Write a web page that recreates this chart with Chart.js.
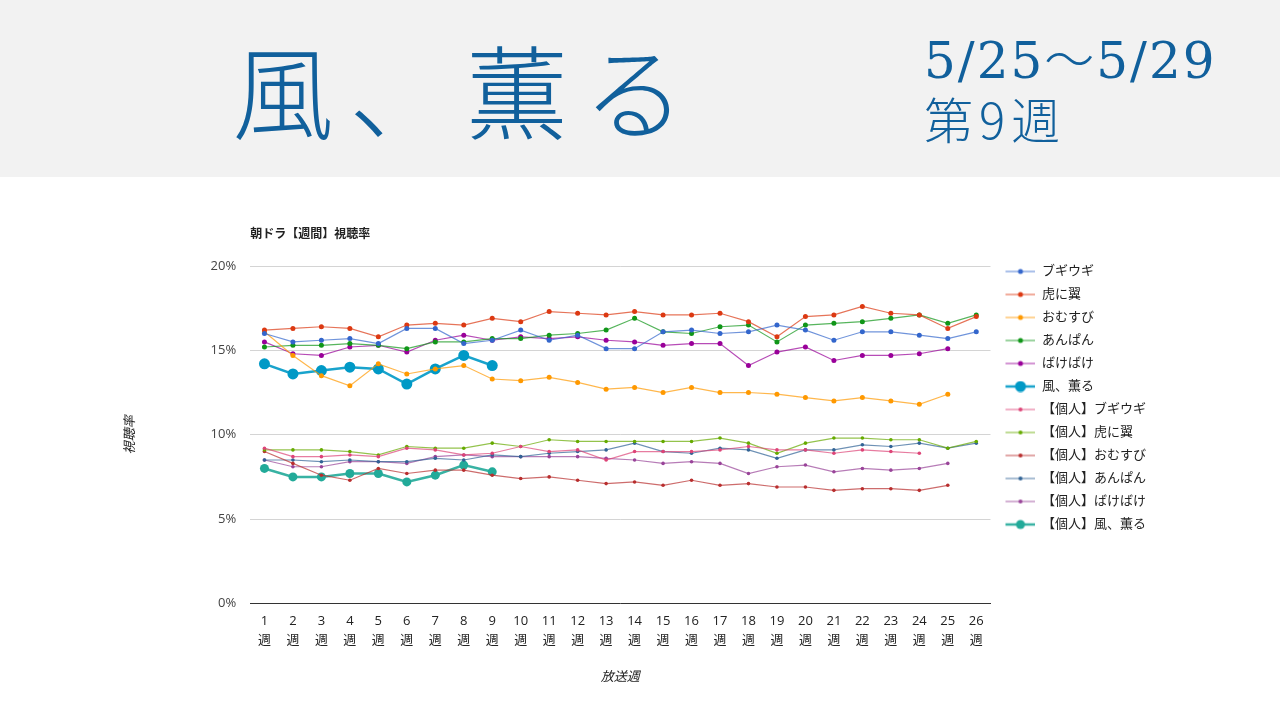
<!DOCTYPE html>
<html lang="ja">
<head>
<meta charset="utf-8">
<title>風、薫る 視聴率</title>
<script src="https://cdn.jsdelivr.net/npm/chart.js@4"></script>
<style>
  html, body { margin: 0; padding: 0; background: #fff; }
  body { width: 1280px; height: 720px; position: relative; overflow: hidden; font-family: 'Noto Sans CJK JP', sans-serif; }
  .head { position: absolute; left: 0; top: 0; width: 1280px; height: 177px; background: #f2f2f2; }
  .big { position: absolute; left: 232px; top: 18px; font-size: 102px; line-height: 140px; letter-spacing: 15px; color: #11609c; font-weight: 300; white-space: nowrap; }
  .date { position: absolute; left: 924px; top: 30px; font-size: 50px; line-height: 62px; letter-spacing: 2px; color: #11609c; font-family: 'DejaVu Serif', 'Noto Sans CJK JP', serif; font-weight: 300; white-space: nowrap; }
  .week { position: absolute; left: 924px; top: 88px; font-size: 49px; line-height: 60px; letter-spacing: 6px; color: #11609c; font-weight: 300; white-space: nowrap; }
  .wrap { position: absolute; left: 100px; top: 215px; width: 1080px; height: 490px; }
</style>
</head>
<body>
<div class="head">
  <div class="big">風、薫る</div>
  <div class="date">5/25～5/29</div>
  <div class="week">第9週</div>
</div>
<div class="wrap"><canvas id="LineChart"></canvas></div>
<script>
const weeks = ['1週', '2週', '3週', '4週', '5週', '6週', '7週', '8週', '9週', '10週', '11週', '12週', '13週',
  '14週', '15週', '16週', '17週', '18週', '19週', '20週', '21週', '22週', '23週', '24週', '25週', '26週'];
const yTicks = [0, 5, 10, 15, 20];

// 世帯
const boogie = [16.0, 15.5, 15.6, 15.7, 15.4, 16.3, 16.3, 15.4, 15.6, 16.2, 15.6, 15.9, 15.1, 15.1, 16.1, 16.2, 16.0, 16.1, 16.5, 16.2, 15.6, 16.1, 16.1, 15.9, 15.7, 16.1];
const tora = [16.2, 16.3, 16.4, 16.3, 15.8, 16.5, 16.6, 16.5, 16.9, 16.7, 17.3, 17.2, 17.1, 17.3, 17.1, 17.1, 17.2, 16.7, 15.8, 17.0, 17.1, 17.6, 17.2, 17.1, 16.3, 17.0];
const omusubi = [16.1, 14.7, 13.5, 12.9, 14.2, 13.6, 13.9, 14.1, 13.3, 13.2, 13.4, 13.1, 12.7, 12.8, 12.5, 12.8, 12.5, 12.5, 12.4, 12.2, 12.0, 12.2, 12.0, 11.8, 12.4, null];
const anpan = [15.2, 15.3, 15.3, 15.4, 15.3, 15.1, 15.5, 15.5, 15.7, 15.7, 15.9, 16.0, 16.2, 16.9, 16.1, 16.0, 16.4, 16.5, 15.5, 16.5, 16.6, 16.7, 16.9, 17.1, 16.6, 17.1];
const bakebake = [15.5, 14.8, 14.7, 15.2, 15.3, 14.9, 15.6, 15.9, 15.6, 15.8, 15.7, 15.8, 15.6, 15.5, 15.3, 15.4, 15.4, 14.1, 14.9, 15.2, 14.4, 14.7, 14.7, 14.8, 15.1, null];
const kaze = [14.2, 13.6, 13.8, 14.0, 13.9, 13.0, 13.9, 14.7, 14.1];

// 個人
const boogieP = [9.2, 8.7, 8.7, 8.8, 8.7, 9.2, 9.1, 8.8, 8.9, 9.3, 9.0, 9.1, 8.5, 9.0, 9.0, 9.0, 9.1, 9.3, 9.1, 9.1, 8.9, 9.1, 9.0, 8.9, null, null];
const toraP = [9.1, 9.1, 9.1, 9.0, 8.8, 9.3, 9.2, 9.2, 9.5, 9.3, 9.7, 9.6, 9.6, 9.6, 9.6, 9.6, 9.8, 9.5, 8.9, 9.5, 9.8, 9.8, 9.7, 9.7, 9.2, 9.6];
const omusubiP = [9.0, 8.3, 7.6, 7.3, 8.0, 7.7, 7.9, 7.9, 7.6, 7.4, 7.5, 7.3, 7.1, 7.2, 7.0, 7.3, 7.0, 7.1, 6.9, 6.9, 6.7, 6.8, 6.8, 6.7, 7.0, null];
const anpanP = [8.5, 8.5, 8.4, 8.5, 8.4, 8.4, 8.6, 8.5, 8.8, 8.7, 8.9, 9.0, 9.1, 9.5, 9.0, 8.9, 9.2, 9.1, 8.6, 9.1, 9.1, 9.4, 9.3, 9.5, 9.2, 9.5];
const bakebakeP = [8.5, 8.1, 8.1, 8.4, 8.4, 8.3, 8.7, 8.8, 8.7, 8.7, 8.7, 8.7, 8.6, 8.5, 8.3, 8.4, 8.3, 7.7, 8.1, 8.2, 7.8, 8.0, 7.9, 8.0, 8.3, null];
const kazeP = [8.0, 7.5, 7.5, 7.7, 7.7, 7.2, 7.6, 8.2, 7.8];

const FONT = "'Open Sans', 'Noto Sans CJK JP', sans-serif";

function alpha(hex, a) {
  const n = parseInt(hex.slice(1), 16);
  return `rgba(${n >> 16}, ${(n >> 8) & 255}, ${n & 255}, ${a})`;
}

function series(label, data, color, main, big) {
  return {
    label: label,
    data: data,
    borderColor: alpha(color, big ? 0.9 : 0.7),
    backgroundColor: color,
    pointBackgroundColor: color,
    pointBorderColor: color,
    borderWidth: big ? 2.5 : 1.2,
    pointRadius: big ? (main ? 5.5 : 4.5) : (main ? 2.5 : 1.8),
    pointBorderWidth: 0,
    tension: 0,
    spanGaps: false,
    _main: main,
    _big: big
  };
}

// 凡例用の小さい線＋点 (左5pxは余白)
function legendIcon(ds) {
  const c = document.createElement('canvas');
  c.width = 35; c.height = 12;
  const g = c.getContext('2d');
  g.strokeStyle = ds.borderColor;
  g.lineWidth = ds._big ? 2.5 : 1.2;
  g.beginPath(); g.moveTo(5, 6); g.lineTo(35, 6); g.stroke();
  g.fillStyle = ds.pointBackgroundColor;
  g.beginPath(); g.arc(20, 6, ds._big ? (ds._main ? 5.5 : 4.5) : (ds._main ? 2.5 : 2), 0, Math.PI * 2); g.fill();
  return c;
}

const titlePlugin = {
  id: 'leftTitle',
  afterDraw(chart) {
    const ctx = chart.ctx;
    ctx.save();
    ctx.font = `bold 12px ${FONT}`;
    ctx.fillStyle = '#222';
    ctx.textBaseline = 'middle';
    ctx.fillText('朝ドラ【週間】視聴率', chart.chartArea.left, 20);
    ctx.restore();
  }
};

document.addEventListener('DOMContentLoaded', () => {
  const ctxLine = document.getElementById('LineChart')?.getContext('2d');
  if (!ctxLine) return;

  const datasets = [
    series('ブギウギ', boogie, '#3366cc', true, false),
    series('虎に翼', tora, '#dc3912', true, false),
    series('おむすび', omusubi, '#ff9900', true, false),
    series('あんぱん', anpan, '#109618', true, false),
    series('ばけばけ', bakebake, '#990099', true, false),
    series('風、薫る', kaze, '#0099c6', true, true),
    series('【個人】ブギウギ', boogieP, '#dd4477', false, false),
    series('【個人】虎に翼', toraP, '#66aa00', false, false),
    series('【個人】おむすび', omusubiP, '#b82e2e', false, false),
    series('【個人】あんぱん', anpanP, '#316395', false, false),
    series('【個人】ばけばけ', bakebakeP, '#994499', false, false),
    series('【個人】風、薫る', kazeP, '#22aa99', false, true)
  ];

  new Chart(ctxLine, {
    type: 'line',
    data: { labels: weeks, datasets: datasets },
    plugins: [titlePlugin],
    options: {
      responsive: true,
      maintainAspectRatio: false,
      animation: false,
      layout: { padding: { top: 40, left: 18, right: 24, bottom: 16 } },
      plugins: {
        legend: {
          position: 'right',
          align: 'start',
          labels: {
            font: { family: FONT, size: 13 },
            color: '#222',
            usePointStyle: true,
            pointStyleWidth: 35,
            padding: 10,
            generateLabels(chart) {
              return chart.data.datasets.map((ds, i) => ({
                text: ds.label,
                pointStyle: legendIcon(ds),
                fillStyle: ds.backgroundColor,
                strokeStyle: ds.borderColor,
                lineWidth: 0,
                hidden: !chart.isDatasetVisible(i),
                datasetIndex: i,
                fontColor: '#222'
              }));
            }
          }
        },
        tooltip: { enabled: true, mode: 'nearest', intersect: false }
      },
      scales: {
        x: {
          offset: true,
          grid: { display: false },
          border: { display: true, color: '#333', width: 1 },
          ticks: {
            color: '#222',
            font: { family: FONT, size: 13, lineHeight: 1.5 },
            maxRotation: 0,
            autoSkip: false,
            padding: 0,
            callback(value) {
              const t = weeks[value];
              return [t.replace('週', ''), '週'];
            }
          },
          title: {
            display: true,
            text: '放送週',
            color: '#222',
            font: { family: FONT, size: 13, style: 'italic' },
            padding: { top: 19 }
          }
        },
        y: {
          min: 0,
          max: 20,
          afterBuildTicks(axis) {
            axis.ticks = yTicks.map(v => ({ value: v }));
          },
          afterFit(axis) {
            // 凡例は上のまま、描画領域だけ下げる
            axis.paddingTop = 51;
          },
          grid: { color: '#d4d4d4', drawTicks: false },
          border: { display: false },
          ticks: {
            color: '#444',
            font: { family: FONT, size: 13 },
            padding: 14,
            callback: v => v + '%'
          },
          title: {
            display: true,
            text: '視聴率',
            color: '#222',
            font: { family: FONT, size: 13, style: 'italic' },
            padding: { bottom: 59 }
          }
        }
      }
    }
  });
});
</script>
</body>
</html>
